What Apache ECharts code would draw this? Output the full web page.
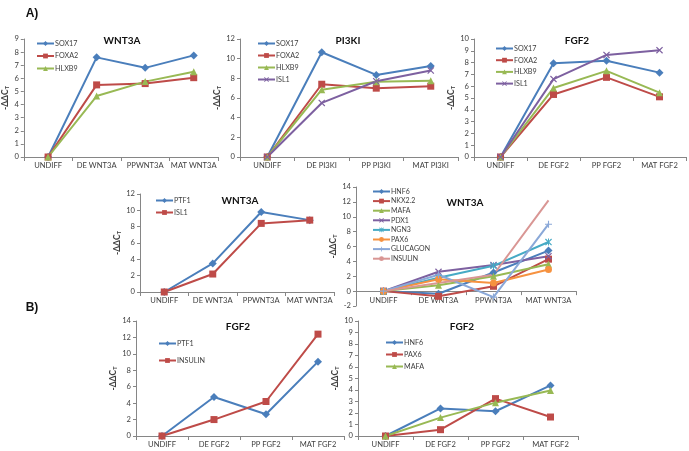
<!DOCTYPE html>
<html><head><meta charset="utf-8">
<script src="https://cdn.jsdelivr.net/npm/echarts@6/dist/echarts.min.js"></script>
<style>html,body{margin:0;padding:0;background:#fff}#c{width:689px;height:451px}</style>
</head><body><div id="c"></div>
<script>
// ---- categories ----
const catsP1 = ['UNDIFF', 'DE WNT3A', 'PPWNT3A', 'MAT WNT3A'];
const catsP2 = ['UNDIFF', 'DE PI3KI', 'PP PI3KI', 'MAT PI3KI'];
const catsP3 = ['UNDIFF', 'DE FGF2', 'PP FGF2', 'MAT FGF2'];
const catsP4 = ['UNDIFF', 'DE WNT3A', 'PPWNT3A', 'MAT WNT3A'];
const catsP5 = ['UNDIFF', 'DE WNT3A', 'PPWNT3A', 'MAT WNT3A'];
const catsP6 = ['UNDIFF', 'DE FGF2', 'PP FGF2', 'MAT FGF2'];
const catsP7 = ['UNDIFF', 'DE FGF2', 'PP FGF2', 'MAT FGF2'];
// ---- panel titles ----
const titles = ['WNT3A', 'PI3KI', 'FGF2', 'WNT3A', 'WNT3A', 'FGF2', 'FGF2'];
// ---- series values ----
const p1_SOX17 = [0, 7.6, 6.8, 7.75];
const p1_FOXA2 = [0, 5.5, 5.6, 6.05];
const p1_HLXB9 = [0, 4.65, 5.75, 6.5];
const p2_SOX17 = [0, 10.65, 8.35, 9.25];
const p2_FOXA2 = [0, 7.4, 7.0, 7.2];
const p2_HLXB9 = [0, 6.85, 7.65, 7.75];
const p2_ISL1 = [0, 5.5, 7.7, 8.8];
const p3_SOX17 = [0, 7.95, 8.15, 7.15];
const p3_FOXA2 = [0, 5.3, 6.75, 5.1];
const p3_HLXB9 = [0, 5.85, 7.3, 5.45];
const p3_ISL1 = [0, 6.6, 8.65, 9.05];
const p4_PTF1 = [0, 3.5, 9.8, 8.8];
const p4_ISL1 = [0, 2.2, 8.4, 8.8];
const p5_HNF6 = [0, -0.35, 2.5, 5.45];
const p5_NKX22 = [0, -0.7, 0.65, 4.3];
const p5_MAFA = [0, 0.8, 2.0, 3.6];
const p5_PDX1 = [0, 2.6, 3.5, 4.7];
const p5_NGN3 = [0, 1.8, 3.4, 6.6];
const p5_PAX6 = [0, 1.6, 1.1, 2.9];
const p5_GLUCAGON = [0, 2.2, -0.8, 9.0];
const p5_INSULIN = [0, 1.1, 2.2, 12.2];
const p6_PTF1 = [0, 4.75, 2.65, 9.05];
const p6_INSULIN = [0, 2.0, 4.2, 12.4];
const p7_HNF6 = [0, 2.4, 2.15, 4.4];
const p7_PAX6 = [0, 0.55, 3.25, 1.65];
const p7_MAFA = [0, 1.6, 2.9, 3.95];
// ---- y axis ranges ----
const yMin = [0, 0, 0, 0, -2, 0, 0];
const yMax = [9, 12, 10, 12, 14, 14, 10];
const yStep = [1, 2, 1, 2, 2, 2, 1];

const C = {
  blue: '#4A7EBB', red: '#BE4B48', green: '#98B954', purple: '#7D60A0',
  cyan: '#46AAC5', orange: '#F69240', lblue: '#8AA8D8', pink: '#D99694'
};
const SYM = {
  x: 'path://M0,1.2L1.2,0L5,3.8L8.8,0L10,1.2L6.2,5L10,8.8L8.8,10L5,6.2L1.2,10L0,8.8L3.8,5Z',
  plus: 'path://M4.2,0H5.8V4.2H10V5.8H5.8V10H4.2V5.8H0V4.2H4.2Z',
  star: 'path://M0,1.2L1.2,0L5,3.8L8.8,0L10,1.2L6.2,5L10,8.8L8.8,10L5,6.2L1.2,10L0,8.8L3.8,5Z M4.3,0H5.7V10H4.3Z'
};

const FONT = 'Lato,"Liberation Sans",Arial,sans-serif';
const grids = [
  {left: 23, top: 39, width: 195, height: 118},
  {left: 240, top: 39, width: 218, height: 118},
  {left: 474, top: 39, width: 212, height: 118},
  {left: 140, top: 194, width: 194, height: 98},
  {left: 356, top: 187, width: 220, height: 119},
  {left: 136, top: 321, width: 208, height: 115},
  {left: 358, top: 321, width: 220, height: 115}
];
const cats = [catsP1, catsP2, catsP3, catsP4, catsP5, catsP6, catsP7];
const nameGaps = [13, 12, 11, 13, 13, 14, 11];

const series = [];
function mk(g, name, data, color, symbol, size) {
  series.push({
    type: 'line', name: name + '#' + g, xAxisIndex: g, yAxisIndex: g, data: data,
    symbol: symbol, symbolSize: size == null ? 7 : size, showSymbol: symbol !== 'none',
    lineStyle: {color: color, width: 2}, itemStyle: {color: color},
    animation: false, z: 3
  });
  return name + '#' + g;
}
const legendData = [[], [], [], [], [], [], []];
function add(g, name, data, color, symbol, size) { legendData[g].push(mk(g, name, data, color, symbol, size)); }

add(0, 'SOX17', p1_SOX17, C.blue, 'diamond', 8);
add(0, 'FOXA2', p1_FOXA2, C.red, 'rect');
add(0, 'HLXB9', p1_HLXB9, C.green, 'triangle');
add(1, 'SOX17', p2_SOX17, C.blue, 'diamond', 8);
add(1, 'FOXA2', p2_FOXA2, C.red, 'rect');
add(1, 'HLXB9', p2_HLXB9, C.green, 'triangle');
add(1, 'ISL1', p2_ISL1, C.purple, SYM.x);
add(2, 'SOX17', p3_SOX17, C.blue, 'diamond', 8);
add(2, 'FOXA2', p3_FOXA2, C.red, 'rect');
add(2, 'HLXB9', p3_HLXB9, C.green, 'triangle');
add(2, 'ISL1', p3_ISL1, C.purple, SYM.x);
add(3, 'PTF1', p4_PTF1, C.blue, 'diamond', 8);
add(3, 'ISL1', p4_ISL1, C.red, 'rect');
add(4, 'HNF6', p5_HNF6, C.blue, 'diamond', 8);
add(4, 'NKX2.2', p5_NKX22, C.red, 'rect');
add(4, 'MAFA', p5_MAFA, C.green, 'triangle');
add(4, 'PDX1', p5_PDX1, C.purple, SYM.x);
add(4, 'NGN3', p5_NGN3, C.cyan, SYM.star);
add(4, 'PAX6', p5_PAX6, C.orange, 'circle');
add(4, 'GLUCAGON', p5_GLUCAGON, C.lblue, SYM.plus);
add(4, 'INSULIN', p5_INSULIN, C.pink, 'none');
add(5, 'PTF1', p6_PTF1, C.blue, 'diamond', 8);
add(5, 'INSULIN', p6_INSULIN, C.red, 'rect');
add(6, 'HNF6', p7_HNF6, C.blue, 'diamond', 8);
add(6, 'PAX6', p7_PAX6, C.red, 'rect');
add(6, 'MAFA', p7_MAFA, C.green, 'triangle');

const legendPos = [
  {left: 36, top: 40, gap: 5.5, fs: 7.2},
  {left: 257, top: 40, gap: 5, fs: 7.2},
  {left: 495, top: 45, gap: 4.7, fs: 7.2},
  {left: 155, top: 197, gap: 5, fs: 7.2},
  {left: 372, top: 188, gap: 2.6, fs: 7},
  {left: 158, top: 340, gap: 10, fs: 7.2},
  {left: 385, top: 339, gap: 5, fs: 7.2}
];
const legends = legendPos.map((p, i) => ({
  data: legendData[i], orient: 'vertical', left: p.left, top: p.top,
  itemWidth: 17, itemHeight: 6, itemGap: p.gap, padding: 0, selectedMode: false,
  formatter: n => n.split('#')[0],
  textStyle: {fontSize: p.fs, fontFamily: FONT, color: '#404040', padding: [0, 0, 0, -4]}
}));

// panel 5 has a negative range: its category axis sits on the zero line
const xOffsets = [0, 0, 0, 0, -119 * 2 / 16, 0, 0];
const xAxes = cats.map((c, i) => ({
  type: 'category', gridIndex: i, data: c, boundaryGap: true, offset: xOffsets[i],
  axisLine: {onZero: false, lineStyle: {color: '#868686', width: 1}},
  axisTick: {show: true, length: 4, lineStyle: {color: '#868686'}},
  axisLabel: {fontSize: 7.6, fontFamily: FONT, color: '#404040', margin: 5, interval: 0}
}));
const yAxes = grids.map((g, i) => ({
  type: 'value', gridIndex: i, min: yMin[i], max: yMax[i], interval: yStep[i],
  splitLine: {show: false},
  axisLine: {show: true, lineStyle: {color: '#868686', width: 1}},
  axisTick: {show: true, length: 3, lineStyle: {color: '#868686'}},
  axisLabel: {fontSize: 7.6, fontFamily: FONT, color: '#404040', margin: 5},
  name: '{a|-ΔΔC}{s|T}', nameLocation: 'middle', nameRotate: 90, nameGap: nameGaps[i],
  nameTextStyle: {rich: {
    a: {fontSize: 8.5, fontWeight: 'bold', fontFamily: FONT, color: '#404040'},
    s: {fontSize: 5.5, fontWeight: 'bold', fontFamily: FONT, color: '#404040', padding: [4, 0, 0, 0]}
  }}
}));

const titlePos = [[122, 41], [348, 41], [577, 41], [240, 201], [465, 203], [238, 327], [462, 327]];
const graphic = titlePos.map((p, i) => ({
  type: 'text', x: p[0], y: p[1],
  style: {text: titles[i], align: 'center', verticalAlign: 'middle', fontSize: 10, fontWeight: 'bold',
    fontFamily: FONT, fill: '#111'}
}));
graphic.push({type: 'text', x: 32, y: 14, style: {text: 'A)', align: 'center', verticalAlign: 'middle',
  fontSize: 12, fontWeight: 'bold', fontFamily: '"Liberation Sans",Arial,sans-serif', fill: '#111'}});
graphic.push({type: 'text', x: 32, y: 308, style: {text: 'B)', align: 'center', verticalAlign: 'middle',
  fontSize: 12, fontWeight: 'bold', fontFamily: '"Liberation Sans",Arial,sans-serif', fill: '#111'}});

const chart = echarts.init(document.getElementById('c'), null, {renderer: 'canvas'});
chart.setOption({
  animation: false, backgroundColor: '#fff',
  grid: grids, xAxis: xAxes, yAxis: yAxes, legend: legends, series: series, graphic: graphic
});
</script></body></html>
